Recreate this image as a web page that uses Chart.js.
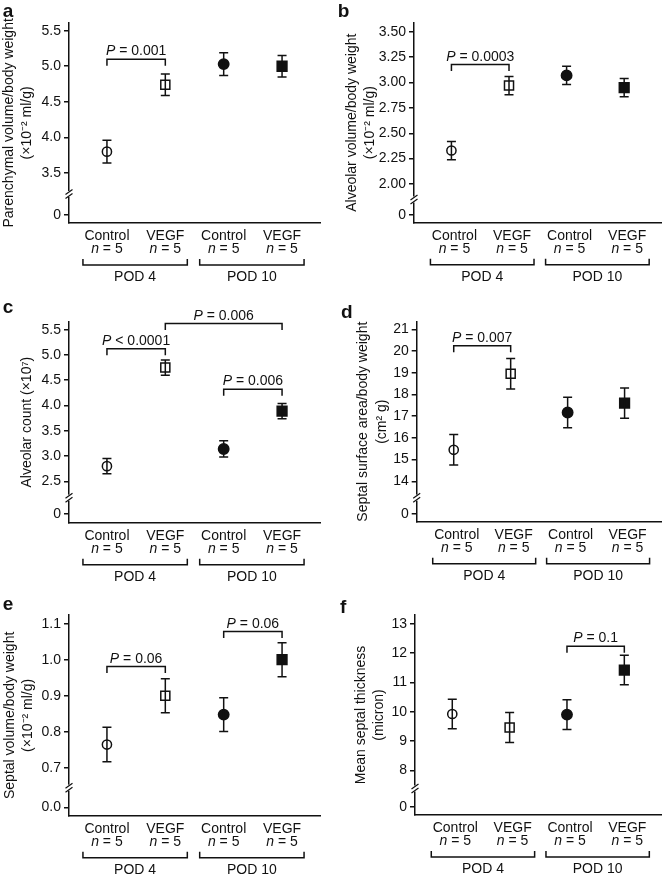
<!DOCTYPE html>
<html><head><meta charset="utf-8">
<script src="https://cdn.jsdelivr.net/npm/chart.js@4.4.0/dist/chart.umd.min.js"></script>
<style>
html,body{margin:0;padding:0;background:#fff;}
#wrap{position:relative;width:670px;height:876px;overflow:hidden;background:#fff;}
canvas{position:absolute;}
</style></head><body><div id="wrap"></div>
<script>
// ---------- shared categories ----------
const categories = ['Control', 'VEGF', 'Control', 'VEGF'];
const groupSizes = [5, 5, 5, 5];
const groups = ['POD 4', 'POD 10'];
const xPositions = [1, 2, 3, 4];

// ---------- a: parenchymal volume / body weight ----------
const parenchymalMean = [3.80, 4.74, 5.03, 5.00];
const parenchymalErr = [0.16, 0.15, 0.16, 0.15];
const parenchymalTicks = [0, 3.5, 4.0, 4.5, 5.0, 5.5];
const parenchymalTickLabels = ['0', '3.5', '4.0', '4.5', '5.0', '5.5'];
const parenchymalP = [{from: 0, to: 1, level: 5.10, text: 'P = 0.001'}];

// ---------- b: alveolar volume / body weight ----------
const alveolarVolMean = [2.33, 2.97, 3.07, 2.95];
const alveolarVolErr = [0.09, 0.09, 0.09, 0.09];
const alveolarVolTicks = [0, 2.00, 2.25, 2.50, 2.75, 3.00, 3.25, 3.50];
const alveolarVolTickLabels = ['0', '2.00', '2.25', '2.50', '2.75', '3.00', '3.25', '3.50'];
const alveolarVolP = [{from: 0, to: 1, level: 3.177, text: 'P = 0.0003'}];

// ---------- c: alveolar count ----------
const alveolarCountMean = [2.80, 4.75, 3.14, 3.89];
const alveolarCountErr = [0.15, 0.15, 0.16, 0.15];
const alveolarCountTicks = [0, 2.5, 3.0, 3.5, 4.0, 4.5, 5.0, 5.5];
const alveolarCountTickLabels = ['0', '2.5', '3.0', '3.5', '4.0', '4.5', '5.0', '5.5'];
const alveolarCountP = [
  {from: 0, to: 1, level: 5.125, text: 'P < 0.0001'},
  {from: 1, to: 3, level: 5.62, text: 'P = 0.006'},
  {from: 2, to: 3, level: 4.32, text: 'P = 0.006'}
];

// ---------- d: septal surface area / body weight ----------
const septalAreaMean = [15.45, 18.95, 17.17, 17.60];
const septalAreaErr = [0.70, 0.70, 0.70, 0.70];
const septalAreaTicks = [0, 14, 15, 16, 17, 18, 19, 20, 21];
const septalAreaTickLabels = ['0', '14', '15', '16', '17', '18', '19', '20', '21'];
const septalAreaP = [{from: 0, to: 1, level: 20.24, text: 'P = 0.007'}];

// ---------- e: septal volume / body weight ----------
const septalVolMean = [0.765, 0.900, 0.848, 1.000];
const septalVolErr = [0.048, 0.047, 0.047, 0.047];
const septalVolTicks = [0, 0.7, 0.8, 0.9, 1.0, 1.1];
const septalVolTickLabels = ['0.0', '0.7', '0.8', '0.9', '1.0', '1.1'];
const septalVolP = [
  {from: 0, to: 1, level: 0.981, text: 'P = 0.06'},
  {from: 2, to: 3, level: 1.078, text: 'P = 0.06'}
];

// ---------- f: mean septal thickness ----------
const thicknessMean = [9.92, 9.46, 9.90, 11.42];
const thicknessErr = [0.50, 0.51, 0.51, 0.50];
const thicknessTicks = [0, 8, 9, 10, 11, 12, 13];
const thicknessTickLabels = ['0', '8', '9', '10', '11', '12', '13'];
const thicknessP = [{from: 2, to: 3, level: 12.23, text: 'P = 0.1'}];

// ---------- styles / layout ----------
const FONT = '"Liberation Sans", Arial, Helvetica, sans-serif';
const INK = '#111';
const pointStyles = ['circle', 'rect', 'circle', 'rect'];
const pointFills = ['#ffffff', '#ffffff', INK, INK];
const pointRadii = [4.6, 6.4, 5.2, 6.9];

const panels = [
  {letter: 'a', lx: 2.7, ly: 16.7, left: 0, top: 0, w: 335, h: 290, padL: 0, yW: 69, padT: 22.7, padR: 15, padB: 67,
   yMin: 2.797, yMax: 5.612, zeroPos: 2.91, mean: parenchymalMean, err: parenchymalErr,
   ticks: parenchymalTicks, tickLabels: parenchymalTickLabels, pvals: parenchymalP,
   title: ['Parenchymal volume/body weight', '(\u00d710\u207b\u00b2 ml/g)'], dx: 0},
  {letter: 'b', lx: 2.7, ly: 16.7, left: 335, top: 0, w: 335, h: 290, padL: 8, yW: 71, padT: 22.7, padR: 3, padB: 67.3,
   yMin: 1.619, yMax: 3.589, zeroPos: 1.695, mean: alveolarVolMean, err: alveolarVolErr,
   ticks: alveolarVolTicks, tickLabels: alveolarVolTickLabels, pvals: alveolarVolP,
   title: ['Alveolar volume/body weight', '(\u00d710\u207b\u00b2 ml/g)'], dx: 3},
  {letter: 'c', lx: 2.7, ly: 23.3, left: 0, top: 290, w: 335, h: 295, padL: 18, yW: 51, padT: 31.7, padR: 15, padB: 62.3,
   yMin: 1.681, yMax: 5.658, zeroPos: 1.853, mean: alveolarCountMean, err: alveolarCountErr,
   ticks: alveolarCountTicks, tickLabels: alveolarCountTickLabels, pvals: alveolarCountP,
   title: 'Alveolar count (\u00d710\u2077)', dx: 0},
  {letter: 'd', lx: 6, ly: 28.3, left: 335, top: 290, w: 335, h: 295, padL: 19.5, yW: 62.2, padT: 31.7, padR: 3, padB: 63.3,
   yMin: 12.139, yMax: 21.35, zeroPos: 12.494, mean: septalAreaMean, err: septalAreaErr,
   ticks: septalAreaTicks, tickLabels: septalAreaTickLabels, pvals: septalAreaP,
   title: ['Septal surface area/body weight', '(cm\u00b2 g)'], dx: 3},
  {letter: 'e', lx: 2.7, ly: 25, left: 0, top: 585, w: 335, h: 291, padL: 1, yW: 68, padT: 30, padR: 15, padB: 60.3,
   yMin: 0.5678, yMax: 1.124, zeroPos: 0.591, mean: septalVolMean, err: septalVolErr,
   ticks: septalVolTicks, tickLabels: septalVolTickLabels, pvals: septalVolP,
   title: ['Septal volume/body weight', '(\u00d710\u207b\u00b2 ml/g)'], dx: 0},
  {letter: 'f', lx: 5, ly: 28, left: 335, top: 585, w: 335, h: 291, padL: 17, yW: 63, padT: 30, padR: 3, padB: 61,
   yMin: 6.475, yMax: 13.297, zeroPos: 6.759, mean: thicknessMean, err: thicknessErr,
   ticks: thicknessTicks, tickLabels: thicknessTickLabels, pvals: thicknessP,
   title: ['Mean septal thickness', '(micron)'], dx: 3}
];

function drawLeadItalic(ctx, text, cx, y, size, baseline) {
  const lead = text.charAt(0), rest = text.slice(1);
  ctx.textBaseline = baseline;
  ctx.textAlign = 'left';
  ctx.font = 'italic ' + size + 'px ' + FONT;
  const w1 = ctx.measureText(lead).width;
  ctx.font = size + 'px ' + FONT;
  const w2 = ctx.measureText(rest).width;
  const x0 = cx - (w1 + w2) / 2;
  ctx.font = 'italic ' + size + 'px ' + FONT;
  ctx.fillText(lead, x0, y);
  ctx.font = size + 'px ' + FONT;
  ctx.fillText(rest, x0 + w1, y);
}

function makePlugin(p) {
  return {
    id: 'panelDeco' + p.letter,
    afterDatasetsDraw(chart) {
      const ctx = chart.ctx, xs = chart.scales.x, ys = chart.scales.y;
      ctx.save();
      ctx.strokeStyle = INK; ctx.lineWidth = 1.5;
      p.mean.forEach((m, i) => {
        const x = xs.getPixelForValue(xPositions[i]);
        const yt = ys.getPixelForValue(m + p.err[i]);
        const yb = ys.getPixelForValue(m - p.err[i]);
        ctx.beginPath();
        ctx.moveTo(x, yt); ctx.lineTo(x, yb);
        ctx.moveTo(x - 4.5, yt); ctx.lineTo(x + 4.5, yt);
        ctx.moveTo(x - 4.5, yb); ctx.lineTo(x + 4.5, yb);
        ctx.stroke();
      });
      ctx.restore();
    },
    afterDraw(chart) {
      const ctx = chart.ctx, xs = chart.scales.x, ys = chart.scales.y;
      const area = chart.chartArea;
      ctx.save();
      ctx.fillStyle = INK; ctx.strokeStyle = INK;
      // axis break
      const yb = ys.getPixelForValue((p.zeroPos + p.ticks[1]) / 2);
      const ax = area.left;
      ctx.fillStyle = '#fff';
      ctx.fillRect(ax - 2, yb - 3, 4, 6);
      ctx.fillStyle = INK;
      ctx.lineWidth = 1.2;
      ctx.beginPath();
      [-2, 2].forEach(d => {
        ctx.moveTo(ax - 3.5, yb + d + 2.5);
        ctx.lineTo(ax + 3.5, yb + d - 2.5);
      });
      ctx.stroke();
      // P-value brackets
      ctx.lineWidth = 1.5;
      p.pvals.forEach(b => {
        const x1 = xs.getPixelForValue(xPositions[b.from]);
        const x2 = xs.getPixelForValue(xPositions[b.to]);
        const yl = ys.getPixelForValue(b.level);
        ctx.beginPath();
        ctx.moveTo(x1, yl + 6.5); ctx.lineTo(x1, yl); ctx.lineTo(x2, yl); ctx.lineTo(x2, yl + 6.5);
        ctx.stroke();
        drawLeadItalic(ctx, b.text, (x1 + x2) / 2, yl - 4, 14, 'alphabetic');
      });
      // category labels
      const base = area.bottom;
      categories.forEach((c, i) => {
        const x = xs.getPixelForValue(xPositions[i]) + p.dx;
        ctx.font = '14px ' + FONT;
        ctx.textAlign = 'center'; ctx.textBaseline = 'middle';
        ctx.fillText(c, x, base + 13.5);
        drawLeadItalic(ctx, 'n = ' + groupSizes[i], x, base + 26, 14, 'middle');
      });
      // group brackets
      groups.forEach((g, gi) => {
        const xa = xs.getPixelForValue(xPositions[gi * 2]) + p.dx - 24;
        const xb = xs.getPixelForValue(xPositions[gi * 2 + 1]) + p.dx + 22;
        const yy = base + 42;
        ctx.beginPath();
        ctx.moveTo(xa, yy - 6); ctx.lineTo(xa, yy); ctx.lineTo(xb, yy); ctx.lineTo(xb, yy - 6);
        ctx.stroke();
        ctx.font = '14px ' + FONT;
        ctx.textAlign = 'center'; ctx.textBaseline = 'middle';
        ctx.fillText(g, (xa + xb) / 2, base + 54.5);
      });
      // panel letter
      ctx.font = 'bold 19px ' + FONT;
      ctx.textAlign = 'left'; ctx.textBaseline = 'alphabetic';
      ctx.fillText(p.letter, p.lx, p.ly);
      ctx.restore();
    }
  };
}

const wrap = document.getElementById('wrap');
panels.forEach(p => {
  const cv = document.createElement('canvas');
  cv.width = p.w; cv.height = p.h;
  cv.style.left = p.left + 'px'; cv.style.top = p.top + 'px';
  cv.style.width = p.w + 'px'; cv.style.height = p.h + 'px';
  wrap.appendChild(cv);
  new Chart(cv, {
    type: 'scatter',
    data: {
      datasets: [{
        data: p.mean.map((m, i) => ({x: xPositions[i], y: m})),
        pointStyle: pointStyles,
        pointRadius: pointRadii,
        pointBackgroundColor: pointFills,
        pointBorderColor: INK,
        pointBorderWidth: 1.5,
        showLine: false
      }]
    },
    options: {
      responsive: false, animation: false, devicePixelRatio: 1,
      layout: {padding: {left: p.padL, top: p.padT, right: p.padR, bottom: p.padB}},
      plugins: {legend: {display: false}, tooltip: {enabled: false}},
      scales: {
        x: {
          type: 'linear', min: 0.35, max: 4.65, display: true,
          grid: {display: false}, ticks: {display: false},
          border: {display: true, color: INK, width: 1.5},
          afterFit: s => { s.height = 0; }
        },
        y: {
          type: 'linear', min: p.yMin, max: p.yMax, bounds: 'data',
          grid: {drawOnChartArea: false, drawTicks: true, tickLength: 5, color: INK, lineWidth: 1.5},
          border: {display: true, color: INK, width: 1.5},
          ticks: {autoSkip: false, padding: 3, color: INK, font: {family: FONT, size: 14},
                  callback: (v, i) => p.tickLabels[i]},
          afterBuildTicks: s => { s.ticks = p.ticks.map(v => ({value: v === 0 ? p.zeroPos : v})); },
          title: {display: true, text: p.title, color: INK, font: {family: FONT, size: 14, lineHeight: 1.3}, padding: {top: 0, bottom: 0}},
          afterFit: s => { s.width = p.yW; }
        }
      }
    },
    plugins: [makePlugin(p)]
  });
});
</script></body></html>
